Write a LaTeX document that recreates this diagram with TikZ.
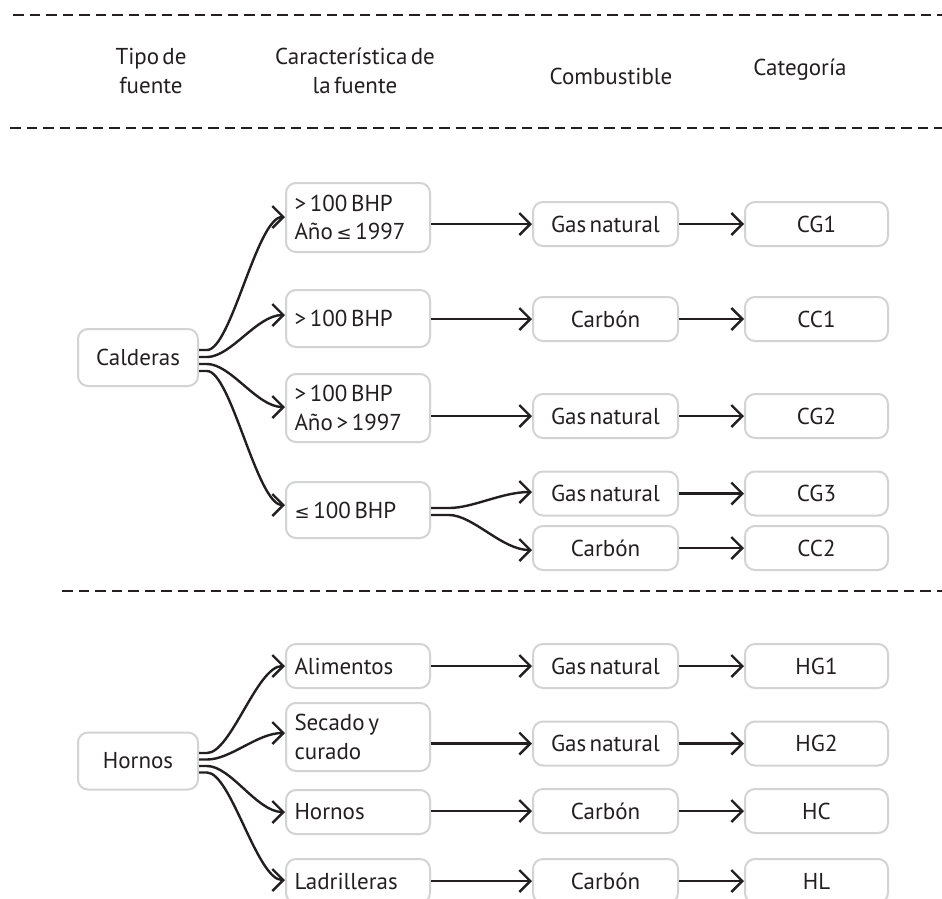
\documentclass[tikz,border=0pt]{standalone}
\usepackage{fontspec}
\setmainfont{PT Sans}[WordSpace={0.55}]
\newfontfamily\symf{DejaVu Sans}
\usetikzlibrary{arrows.meta}
\definecolor{ink}{HTML}{231F20}
\definecolor{frame}{HTML}{D1D3D4}
\newcommand\mleq{{\symf\fontsize{18}{28}\selectfont ≤}}
\begin{document}
\begin{tikzpicture}[x=1pt,y=-1pt,
  every node/.style={font=\fontsize{23}{28.5}\selectfont, text=ink},
  box/.style={draw=frame, line width=2pt, rounded corners=10pt, inner sep=0pt, outer sep=1pt},
  leftbox/.style={box, minimum width=120pt, minimum height=57pt},
  charbox/.style={box, minimum width=144pt, text width=127pt, align=left,
    execute at begin node={\spaceskip=0.16em\relax}},
  combbox/.style={box, minimum width=145pt, minimum height=44pt},
  catbox/.style={box, minimum width=143pt, minimum height=44pt},
  head/.style={align=center, inner sep=0pt, execute at begin node={\spaceskip=0.14em\relax}},
  dashline/.style={draw=ink, line width=2pt, dash pattern=on 10.5pt off 6pt},
  conn/.style={draw=ink, line width=2.4pt, -{Straight Barb[length=11pt,width=22pt]}}]
\useasboundingbox (0,0) rectangle (942,898);
\clip (0,0) rectangle (942,898);

% dashed separators
\coordinate (d1a) at (13,15);  \coordinate (d1b) at (942,15);
\coordinate (d2a) at (10,128); \coordinate (d2b) at (942,128);
\coordinate (d3a) at (62,591); \coordinate (d3b) at (942,591);
\draw[dashline] (d1a) -- (d1b);
\draw[dashline] (d2a) -- (d2b);
\draw[dashline] (d3a) -- (d3b);

% headers
\node[head] (h1) at (151,71) {Tipo de\\fuente};
\node[head] (h2) at (355,71) {Característica de\\la fuente};
\node[head] (h3) at (611,76) {Combustible};
\node[head] (h4) at (800,70) {Categoría};

% Calderas block
\node[leftbox] (cal) at (138,357.5) {Calderas};
\node[charbox, minimum height=69pt] (c1) at (358,217.5) {> 100 BHP\\Año \mleq{} 1997};
\node[charbox, minimum height=57pt] (c2) at (358,318.5) {> 100 BHP};
\node[charbox, minimum height=68pt] (c3) at (358,408) {> 100 BHP\\Año > 1997};
\node[charbox, minimum height=56pt] (c4) at (358,510) {\mleq{} 100 BHP};

\node[combbox] (g1) at (605.5,224) {Gas natural};
\node[combbox] (g2) at (605.5,319) {Carbón};
\node[combbox] (g3) at (605.5,416) {Gas natural};
\node[combbox] (g4) at (605.5,493.5) {Gas natural};
\node[combbox] (g5) at (605.5,548) {Carbón};

\node[catbox] (k1) at (816.5,224) {CG1};
\node[catbox] (k2) at (816.5,319) {CC1};
\node[catbox] (k3) at (816.5,416) {CG2};
\node[catbox] (k4) at (816.5,493.5) {CG3};
\node[catbox] (k5) at (816.5,548) {CC2};

% Hornos block
\node[leftbox] (hor) at (138,761) {Hornos};
\node[charbox, minimum height=44pt] (a1) at (358,666) {Alimentos};
\node[charbox, minimum height=68pt] (a2) at (358,737) {Secado y\\curado};
\node[charbox, minimum height=44pt] (a3) at (358,812) {Hornos};
\node[charbox, minimum height=44pt] (a4) at (358,881) {Ladrilleras};

\node[combbox] (f1) at (605.5,666) {Gas natural};
\node[combbox] (f2) at (605.5,743.5) {Gas natural};
\node[combbox] (f3) at (605.5,811) {Carbón};
\node[combbox] (f4) at (605.5,881) {Carbón};

\node[catbox] (m1) at (816.5,666) {HG1};
\node[catbox] (m2) at (816.5,743.5) {HG2};
\node[catbox] (m3) at (816.5,811) {HC};
\node[catbox] (m4) at (816.5,881) {HL};

% fan from Calderas
\draw[conn] ([yshift=7.5pt]cal.east) -- ++(8,0) .. controls +(24,0) and +(-28,0) .. ([yshift=0.5pt]c1.west);
\draw[conn] ([yshift=0.5pt]cal.east) -- ++(8,0) .. controls +(24,0) and +(-28,0) .. ([yshift=3.5pt]c2.west);
\draw[conn] ([yshift=-6.5pt]cal.east) -- ++(8,0) .. controls +(24,0) and +(-28,0) .. ([yshift=1pt]c3.west);
\draw[conn] ([yshift=-13.5pt]cal.east) -- ++(8,0) .. controls +(24,0) and +(-28,0) .. ([yshift=5pt]c4.west);

% fan from Hornos
\draw[conn] ([yshift=8pt]hor.east) -- ++(8,0) .. controls +(24,0) and +(-28,0) .. (a1.west);
\draw[conn] ([yshift=1.5pt]hor.east) -- ++(8,0) .. controls +(24,0) and +(-28,0) .. ([yshift=4pt]a2.west);
\draw[conn] ([yshift=-5pt]hor.east) -- ++(8,0) .. controls +(24,0) and +(-28,0) .. (a3.west);
\draw[conn] ([yshift=-11.5pt]hor.east) -- ++(8,0) .. controls +(24,0) and +(-28,0) .. ([yshift=1pt]a4.west);

% characteristic -> fuel
\draw[conn] (c1.east |- g1.west) -- (g1.west);
\draw[conn] (c2.east |- g2.west) -- (g2.west);
\draw[conn] (c3.east |- g3.west) -- (g3.west);
\draw[conn] ([yshift=2pt]c4.east) -- ++(18,0) .. controls +(24,0) and +(-30,0) .. ([yshift=1.5pt]g4.west);
\draw[conn] ([yshift=-5pt]c4.east) -- ++(18,0) .. controls +(24,0) and +(-30,0) .. ([yshift=-2pt]g5.west);
\draw[conn] (a1.east |- f1.west) -- (f1.west);
\draw[conn] (a2.east |- f2.west) -- (f2.west);
\draw[conn] (a3.east |- f3.west) -- (f3.west);
\draw[conn] (a4.east |- f4.west) -- (f4.west);

% fuel -> category
\draw[conn] (g1.east) -- (k1.west);
\draw[conn] (g2.east) -- (k2.west);
\draw[conn] (g3.east) -- (k3.west);
\draw[conn] (g4.east) -- (k4.west);
\draw[conn] (g5.east) -- (k5.west);
\draw[conn] (f1.east) -- (m1.west);
\draw[conn] (f2.east) -- (m2.west);
\draw[conn] (f3.east) -- (m3.west);
\draw[conn] (f4.east) -- (m4.west);
\end{tikzpicture}
\end{document}
